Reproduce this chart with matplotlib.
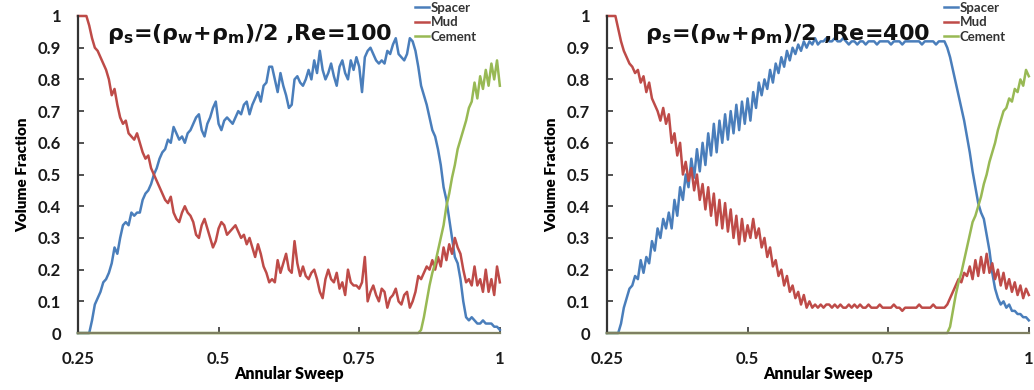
import numpy as np
import matplotlib
matplotlib.use("Agg")
import matplotlib.pyplot as plt
from matplotlib.ticker import FuncFormatter

plt.rcParams["font.family"] = ["Lato", "DejaVu Sans"]
plt.rcParams["font.weight"] = "bold"
plt.rcParams["mathtext.fontset"] = "dejavusans"

# annular sweep sampled every 0.005 from 0.25 to 1.0 (151 points)
sweep = np.linspace(0.25, 1.0, 151)

# --- Re = 100 ---
spacer_100 = [
    0, 0, 0, 0, 0, 0.04, 0.09, 0.11, 0.13, 0.16,                 # 0.25
    0.17, 0.19, 0.22, 0.27, 0.25, 0.30, 0.34, 0.35, 0.34, 0.38,  # 0.30
    0.37, 0.38, 0.38, 0.42, 0.44, 0.45, 0.47, 0.50, 0.52, 0.55,  # 0.35
    0.57, 0.58, 0.61, 0.60, 0.65, 0.63, 0.61, 0.62, 0.60, 0.63,  # 0.40
    0.64, 0.66, 0.68, 0.69, 0.64, 0.62, 0.66, 0.68, 0.71, 0.73,  # 0.45
    0.66, 0.64, 0.67, 0.68, 0.67, 0.66, 0.68, 0.70, 0.69, 0.72,  # 0.50
    0.73, 0.69, 0.72, 0.74, 0.76, 0.73, 0.78, 0.79, 0.84, 0.84,  # 0.55
    0.80, 0.76, 0.82, 0.78, 0.75, 0.71, 0.72, 0.80, 0.81, 0.79,  # 0.60
    0.78, 0.80, 0.83, 0.80, 0.86, 0.82, 0.89, 0.83, 0.80, 0.82,  # 0.65
    0.85, 0.81, 0.78, 0.84, 0.86, 0.82, 0.80, 0.86, 0.83, 0.87,  # 0.70
    0.84, 0.76, 0.87, 0.89, 0.90, 0.88, 0.86, 0.85, 0.86, 0.85,  # 0.75
    0.89, 0.88, 0.91, 0.93, 0.88, 0.87, 0.86, 0.88, 0.93, 0.92,  # 0.80
    0.89, 0.84, 0.78, 0.75, 0.72, 0.68, 0.64, 0.62, 0.58, 0.53,  # 0.85
    0.46, 0.42, 0.36, 0.30, 0.24, 0.22, 0.17, 0.10, 0.05, 0.04,  # 0.90
    0.05, 0.04, 0.03, 0.03, 0.04, 0.03, 0.03, 0.03, 0.02, 0.02,  # 0.95
    0.01,
]
mud_100 = [
    1.0, 1.0, 1.0, 1.0, 0.97, 0.93, 0.90, 0.89, 0.87, 0.85,      # 0.25
    0.83, 0.80, 0.75, 0.77, 0.72, 0.68, 0.66, 0.67, 0.63, 0.62,  # 0.30
    0.61, 0.63, 0.60, 0.57, 0.55, 0.56, 0.52, 0.50, 0.48, 0.46,  # 0.35
    0.44, 0.42, 0.41, 0.43, 0.38, 0.36, 0.35, 0.38, 0.40, 0.38,  # 0.40
    0.37, 0.35, 0.31, 0.30, 0.34, 0.36, 0.33, 0.30, 0.27, 0.29,  # 0.45
    0.33, 0.35, 0.34, 0.31, 0.32, 0.33, 0.34, 0.32, 0.30, 0.31,  # 0.50
    0.28, 0.30, 0.27, 0.24, 0.28, 0.25, 0.21, 0.19, 0.16, 0.17,  # 0.55
    0.16, 0.23, 0.19, 0.22, 0.25, 0.20, 0.19, 0.29, 0.22, 0.18,  # 0.60
    0.21, 0.18, 0.17, 0.19, 0.20, 0.17, 0.13, 0.11, 0.17, 0.20,  # 0.65
    0.17, 0.16, 0.19, 0.14, 0.16, 0.12, 0.20, 0.16, 0.15, 0.15,  # 0.70
    0.14, 0.16, 0.24, 0.10, 0.13, 0.15, 0.12, 0.10, 0.14, 0.13,  # 0.75
    0.08, 0.11, 0.12, 0.14, 0.10, 0.09, 0.12, 0.13, 0.08, 0.10,  # 0.80
    0.13, 0.18, 0.17, 0.19, 0.21, 0.20, 0.23, 0.20, 0.24, 0.21,  # 0.85
    0.27, 0.23, 0.28, 0.25, 0.30, 0.27, 0.25, 0.20, 0.16, 0.17,  # 0.90
    0.15, 0.21, 0.15, 0.17, 0.13, 0.20, 0.13, 0.17, 0.12, 0.21,  # 0.95
    0.16,
]

# cement stays at zero until the front arrives near 0.855
cement_sweep = [0.25, 0.855, 0.86, 0.865, 0.87, 0.875, 0.88, 0.885, 0.89, 0.895,
                0.90, 0.905, 0.91, 0.915, 0.92, 0.925, 0.93, 0.935, 0.94, 0.945,
                0.95, 0.955, 0.96, 0.965, 0.97, 0.975, 0.98, 0.985, 0.99, 0.995, 1.0]
cement_100 = [0, 0.0, 0.01, 0.05, 0.10, 0.15, 0.19, 0.22, 0.26, 0.30,
              0.34, 0.40, 0.44, 0.49, 0.53, 0.58, 0.61, 0.64, 0.67, 0.71,
              0.73, 0.79, 0.74, 0.81, 0.77, 0.83, 0.78, 0.85, 0.80, 0.86, 0.78]

# --- Re = 400 ---
spacer_400 = [
    0, 0, 0, 0, 0, 0.03, 0.08, 0.11, 0.14, 0.15,                 # 0.25
    0.18, 0.17, 0.23, 0.19, 0.24, 0.22, 0.29, 0.26, 0.33, 0.30,  # 0.30
    0.36, 0.33, 0.38, 0.33, 0.42, 0.37, 0.46, 0.42, 0.50, 0.46,  # 0.35
    0.55, 0.49, 0.58, 0.51, 0.60, 0.53, 0.63, 0.56, 0.66, 0.57,  # 0.40
    0.67, 0.60, 0.69, 0.61, 0.70, 0.63, 0.72, 0.64, 0.73, 0.66,  # 0.45
    0.74, 0.67, 0.76, 0.71, 0.79, 0.75, 0.80, 0.77, 0.83, 0.79,  # 0.50
    0.85, 0.82, 0.87, 0.84, 0.89, 0.86, 0.90, 0.88, 0.91, 0.89,  # 0.55
    0.92, 0.90, 0.92, 0.91, 0.93, 0.91, 0.92, 0.92, 0.93, 0.92,  # 0.60
    0.92, 0.93, 0.92, 0.92, 0.93, 0.92, 0.91, 0.92, 0.92, 0.91,  # 0.65
    0.92, 0.92, 0.91, 0.92, 0.92, 0.92, 0.91, 0.92, 0.92, 0.92,  # 0.70
    0.92, 0.91, 0.92, 0.92, 0.92, 0.91, 0.92, 0.92, 0.92, 0.92,  # 0.75
    0.92, 0.92, 0.91, 0.92, 0.92, 0.92, 0.92, 0.91, 0.92, 0.92,  # 0.80
    0.92, 0.90, 0.87, 0.83, 0.79, 0.75, 0.71, 0.67, 0.62, 0.57,  # 0.85
    0.51, 0.46, 0.41, 0.38, 0.36, 0.31, 0.26, 0.19, 0.14, 0.11,  # 0.90
    0.09, 0.10, 0.08, 0.09, 0.07, 0.07, 0.06, 0.06, 0.05, 0.05,  # 0.95
    0.04,
]
mud_400 = [
    1.0, 1.0, 1.0, 1.0, 0.96, 0.92, 0.89, 0.87, 0.85, 0.84,      # 0.25
    0.82, 0.83, 0.79, 0.81, 0.76, 0.79, 0.74, 0.72, 0.70, 0.67,  # 0.30
    0.71, 0.66, 0.69, 0.60, 0.63, 0.56, 0.60, 0.50, 0.54, 0.48,  # 0.35
    0.52, 0.45, 0.50, 0.42, 0.47, 0.39, 0.46, 0.37, 0.44, 0.34,  # 0.40
    0.42, 0.33, 0.41, 0.32, 0.39, 0.30, 0.37, 0.28, 0.36, 0.29,  # 0.45
    0.34, 0.30, 0.36, 0.30, 0.33, 0.27, 0.30, 0.24, 0.27, 0.21,  # 0.50
    0.23, 0.18, 0.20, 0.15, 0.18, 0.13, 0.15, 0.11, 0.13, 0.09,  # 0.55
    0.12, 0.08, 0.10, 0.08, 0.09, 0.08, 0.09, 0.08, 0.09, 0.09,  # 0.60
    0.08, 0.09, 0.08, 0.09, 0.08, 0.08, 0.09, 0.08, 0.09, 0.08,  # 0.65
    0.09, 0.08, 0.08, 0.09, 0.08, 0.08, 0.08, 0.09, 0.08, 0.08,  # 0.70
    0.08, 0.08, 0.09, 0.08, 0.08, 0.07, 0.08, 0.08, 0.08, 0.08,  # 0.75
    0.08, 0.09, 0.08, 0.08, 0.08, 0.08, 0.09, 0.08, 0.08, 0.08,  # 0.80
    0.08, 0.09, 0.11, 0.13, 0.15, 0.17, 0.16, 0.19, 0.18, 0.21,  # 0.85
    0.17, 0.23, 0.18, 0.24, 0.19, 0.25, 0.19, 0.22, 0.17, 0.20,  # 0.90
    0.15, 0.19, 0.14, 0.17, 0.13, 0.16, 0.12, 0.15, 0.11, 0.14,  # 0.95
    0.12,
]
cement_400 = [0, 0.0, 0.02, 0.07, 0.12, 0.16, 0.19, 0.23, 0.27, 0.31,
              0.35, 0.37, 0.40, 0.43, 0.47, 0.50, 0.54, 0.57, 0.60, 0.64,
              0.67, 0.70, 0.71, 0.74, 0.73, 0.77, 0.76, 0.80, 0.78, 0.83, 0.81]

x_ticks = [0.25, 0.5, 0.75, 1.0]
y_ticks = [0, 0.1, 0.2, 0.3, 0.4, 0.5, 0.6, 0.7, 0.8, 0.9, 1.0]

BLUE = "#4a7ebb"
RED = "#be4b48"
GREEN = "#98b954"

fig = plt.figure(figsize=(10.34, 3.9), dpi=100)
panels = [
    ([0.0754, 0.146, 0.408, 0.813], spacer_100, mud_100, cement_100, "100", 0.07),
    ([0.587, 0.146, 0.408, 0.813], spacer_400, mud_400, cement_400, "400", 0.09),
]

fmt = FuncFormatter(lambda v, pos: f"{v:g}")

for rect, spacer, mud, cement, re, tx in panels:
    ax = fig.add_axes(rect)
    ax.plot(sweep, spacer, color=BLUE, lw=1.8, label="Spacer", clip_on=False)
    ax.plot(sweep, mud, color=RED, lw=1.8, label="Mud", clip_on=False)
    ax.plot(cement_sweep, cement, color=GREEN, lw=1.8, label="Cement", clip_on=False)

    ax.set_xlim(0.25, 1.0)
    ax.set_ylim(0, 1.0)
    ax.set_xticks(x_ticks)
    ax.set_yticks(y_ticks)
    ax.xaxis.set_major_formatter(fmt)
    ax.yaxis.set_major_formatter(fmt)
    ax.tick_params(direction="in", length=4, width=1.2, labelsize=12,
                   color="#333333", labelcolor="#1a1a1a")
    ax.tick_params(axis="y", pad=12)
    ax.tick_params(axis="x", pad=13)

    for side in ("top", "right"):
        ax.spines[side].set_visible(False)
    ax.spines["left"].set_color("#333333")
    ax.spines["bottom"].set_color("#7f8062")
    ax.spines["left"].set_linewidth(1.6)
    ax.spines["bottom"].set_linewidth(1.6)

    ax.set_xlabel("Annular Sweep", fontsize=11.5, fontweight="heavy", labelpad=-1)
    ax.set_ylabel("Volume Fraction", fontsize=11, fontweight="heavy", labelpad=6)

    ax.text(tx, 0.925,
            r"$\mathbf{\rho_s}$=($\mathbf{\rho_w}$+$\mathbf{\rho_m}$)/2 ,Re=" + re,
            transform=ax.transAxes, fontsize=16, fontweight="bold",
            family="DejaVu Sans", color="#111111", va="baseline", ha="left")

    leg = ax.legend(loc="upper left", bbox_to_anchor=(0.80, 1.045), frameon=False,
                    fontsize=9.5, handlelength=1.0, handletextpad=0.15,
                    labelspacing=0.2, borderpad=0, borderaxespad=0)
    for t in leg.get_texts():
        t.set_color("#333333")

fig.savefig("out.png", dpi=100)
